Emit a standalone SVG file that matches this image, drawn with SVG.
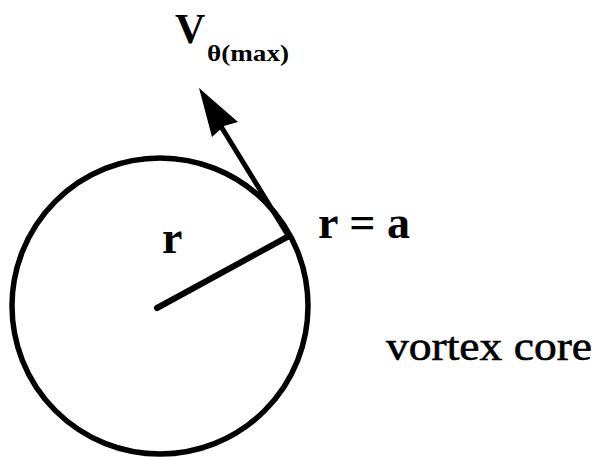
<svg xmlns="http://www.w3.org/2000/svg" width="603" height="460" viewBox="0 0 603 460">
<style>
.t{font-family:"Liberation Serif","Times New Roman",serif;font-weight:bold;fill:#000}
.n{font-weight:normal;stroke:#000;stroke-width:0.6}
.s{fill:none;stroke:#000;stroke-linecap:round}
</style>
<rect width="603" height="460" fill="#fff"/>
<g id="core">
<circle class="s" cx="160" cy="306" r="148" stroke-width="5.5"/>
</g>
<g id="connectors">
<line class="s" x1="157" y1="308" x2="289" y2="236" stroke-width="6"/>
<line class="s" x1="289" y1="237" x2="222" y2="128" stroke-width="5"/>
<polygon points="199,88 238,122 224,126 212,137" fill="#000"/>
</g>
<g id="labels">
<text class="t" x="175" y="43" font-size="42">V</text>
<text class="t" x="207" y="61" font-size="24" textLength="82" lengthAdjust="spacingAndGlyphs">θ(max)</text>
<text class="t" x="162" y="253" font-size="46">r</text>
<text class="t" x="318" y="238" font-size="46" textLength="92" lengthAdjust="spacingAndGlyphs">r = a</text>
<text class="t n" x="386" y="360" font-size="40" textLength="206" lengthAdjust="spacingAndGlyphs">vortex core</text>
</g>
</svg>
